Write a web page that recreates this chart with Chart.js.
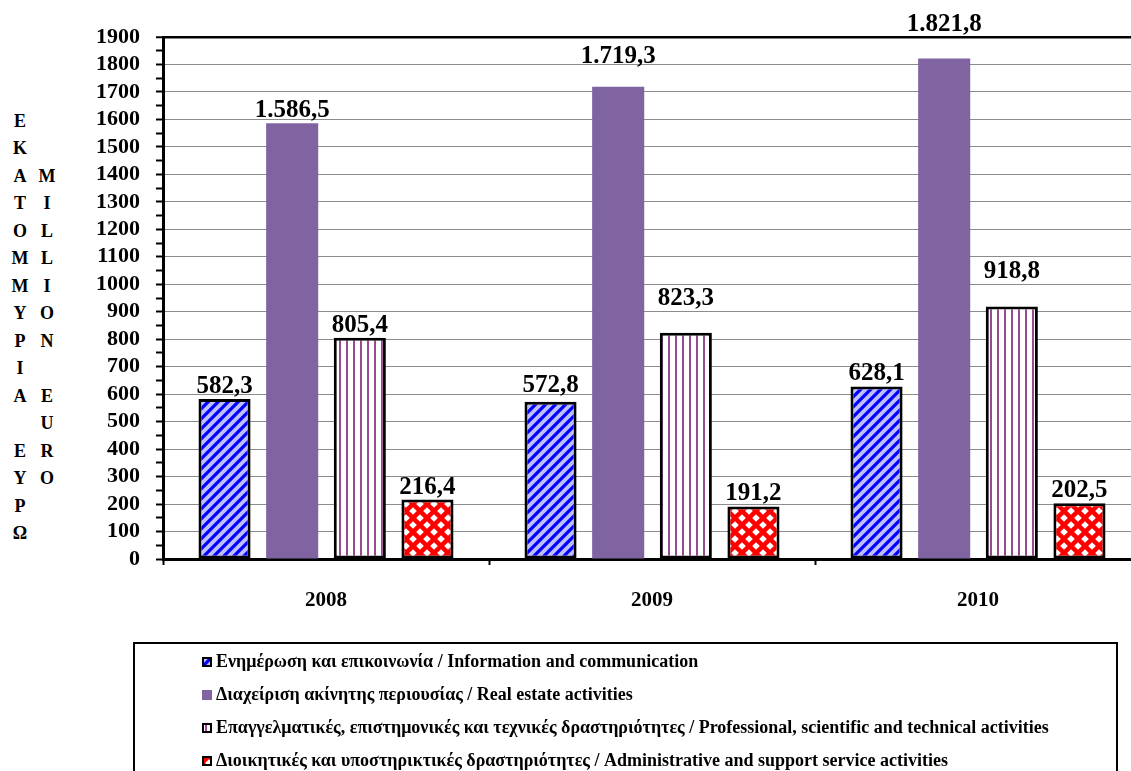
<!DOCTYPE html>
<html>
<head>
<meta charset="utf-8">
<script src="https://cdn.jsdelivr.net/npm/chart.js@4.4.1/dist/chart.umd.min.js"></script>
<style>
  html, body { margin: 0; padding: 0; background: #fff; overflow: hidden; }
  body { width: 1131px; height: 771px; position: relative; font-family: "Liberation Serif", "Times New Roman", serif; }
  #wrap { position: absolute; left: 0; top: 0; width: 1141px; height: 630px; }
  .ytitle { position: absolute; width: 24px; text-align: center; font-weight: bold; font-size: 18px; line-height: 27.47px; color: #000; }
  #legend { position: absolute; left: 133px; top: 642px; width: 985px; height: 150px; border: 2px solid #000; box-sizing: border-box; padding: 1px 0 0 67px; }
  .row { height: 33px; line-height: 33px; font-weight: bold; font-size: 18px; white-space: nowrap; display: flex; align-items: center; }
  .row canvas { width: 10px; height: 10px; margin-right: 4px; }
</style>
</head>
<body>
<div class="ytitle" id="yTitleGr" style="left:8px; top:108px;"></div>
<div class="ytitle" id="yTitleEn" style="left:35px; top:163px;"></div>
<div id="wrap"><canvas id="chart" width="1141" height="630"></canvas></div>
<div id="legend"></div>

<script>
/* ─────────────────────────────────────────
   DATOS
───────────────────────────────────────── */
const years = ["2008", "2009", "2010"];
const infoComm = [582.3, 572.8, 628.1];
const realEstate = [1586.5, 1719.3, 1821.8];
const professional = [805.4, 823.3, 918.8];
const adminSupport = [216.4, 191.2, 202.5];

const seriesLabels = [
  "Ενημέρωση και επικοινωνία / Information and communication",
  "Διαχείριση ακίνητης περιουσίας / Real estate activities",
  "Επαγγελματικές, επιστημονικές και τεχνικές δραστηριότητες / Professional, scientific and technical activities",
  "Διοικητικές και υποστηρικτικές δραστηριότητες / Administrative and support service activities"
];

const yTitleGr = "ΕΚΑΤΟΜΜΥΡΙΑ ΕΥΡΩ";
const yTitleEn = "MILLION EURO";

const SERIF = '"Liberation Serif", "Times New Roman", serif';

/* ─────────────────────────────────────────
   HELPERS
───────────────────────────────────────── */
// 1586.5 -> "1.586,5"
function fmt(v) {
  const [i, d] = v.toFixed(1).split(".");
  return i.replace(/\B(?=(\d{3})+(?!\d))/g, ".") + "," + d;
}

// rellenos con trama, como en Excel
function makePattern(kind) {
  const c = document.createElement("canvas");
  const g = c.getContext("2d");
  if (kind === "diag") {
    c.width = c.height = 10;
    g.fillStyle = "#bdbdff";
    g.fillRect(0, 0, 10, 10);
    g.strokeStyle = "#0000ff";
    g.lineWidth = 3.2;
    g.beginPath();
    g.moveTo(-5, 5); g.lineTo(5, -5);
    g.moveTo(0, 10); g.lineTo(10, 0);
    g.moveTo(5, 15); g.lineTo(15, 5);
    g.stroke();
  } else if (kind === "vert") {
    c.width = c.height = 7;
    g.fillStyle = "#ffffff";
    g.fillRect(0, 0, 7, 7);
    g.fillStyle = "#9a4a94";
    g.fillRect(3, 0, 2, 7);
  } else if (kind === "diamond") {
    c.width = 14; c.height = 14;
    g.fillStyle = "#ff0000";
    g.fillRect(0, 0, 14, 14);
    g.fillStyle = "#ffffff";
    const r = 3.8;
    [[7, 7], [0, 0], [14, 0], [0, 14], [14, 14]].forEach(([x, y]) => {
      g.beginPath();
      g.moveTo(x, y - r); g.lineTo(x + r, y); g.lineTo(x, y + r); g.lineTo(x - r, y);
      g.closePath();
      g.fill();
    });
  }
  return g.createPattern(c, "repeat");
}

/* ─────────────────────────────────────────
   TÍTULO VERTICAL DEL EJE Y
───────────────────────────────────────── */
function letters(s) {
  return s.split("").map(ch => ch === " " ? "&nbsp;" : ch).join("<br>");
}
document.getElementById("yTitleGr").innerHTML = letters(yTitleGr);
document.getElementById("yTitleEn").innerHTML = letters(yTitleEn);

/* ─────────────────────────────────────────
   PLUGIN: valores encima de las barras
───────────────────────────────────────── */
const valueLabels = {
  id: "valueLabels",
  afterDatasetsDraw(chart) {
    const ctx = chart.ctx;
    ctx.save();
    ctx.font = "bold 25px " + SERIF;
    ctx.fillStyle = "#000";
    ctx.textAlign = "center";
    ctx.textBaseline = "alphabetic";
    chart.data.datasets.forEach((ds, i) => {
      chart.getDatasetMeta(i).data.forEach((bar, j) => {
        const lift = ds.labelLift ? ds.labelLift[j] : 0;
        ctx.fillText(fmt(ds.data[j]), bar.x, bar.y - 6 - lift);
      });
    });
    ctx.restore();
  }
};

/* ─────────────────────────────────────────
   GRÁFICO
───────────────────────────────────────── */
const fills = [makePattern("diag"), "#8064a2", makePattern("vert"), makePattern("diamond")];
const borders = [3, 0, 3, 3];
const seriesData = [infoComm, realEstate, professional, adminSupport];

const datasets = seriesData.map((data, i) => ({
  label: seriesLabels[i],
  data,
  backgroundColor: fills[i],
  borderColor: "#000",
  borderWidth: borders[i],
  borderSkipped: false,
  categoryPercentage: 0.83,
  barPercentage: 0.77,
}));
// algunas etiquetas están desplazadas hacia arriba en el original
datasets[0].labelLift = [0, 4, 0];
datasets[1].labelLift = [0, 18, 21];
datasets[2].labelLift = [0, 22, 23];

new Chart(document.getElementById("chart"), {
  type: "bar",
  data: { labels: years, datasets },
  plugins: [valueLabels],
  options: {
    responsive: false,
    animation: false,
    layout: { padding: { top: 37, left: 0, right: 0, bottom: 0 } },
    plugins: {
      legend: { display: false },
      tooltip: { enabled: false }
    },
    scales: {
      x: {
        afterFit: s => { s.height = 71; },
        border: { color: "#000", width: 3 },
        grid: {
          offset: true,
          drawOnChartArea: false,
          tickLength: 6,
          tickColor: "#000",
          tickWidth: 2
        },
        ticks: {
          color: "#000",
          padding: 23,
          font: { family: SERIF, size: 21, weight: "bold" }
        }
      },
      y: {
        min: 0,
        max: 1900,
        afterFit: s => { s.width = 163; },
        border: { color: "#000", width: 3 },
        grid: {
          color: c => c.tick.value === 1900 ? "#000" : (c.tick.value % 100 ? "rgba(0,0,0,0)" : "#8c8c8c"),
          lineWidth: c => c.tick.value === 1900 ? 2.5 : 1,
          tickLength: 7,
          tickColor: "#000",
          tickWidth: 2
        },
        ticks: {
          stepSize: 50,
          autoSkip: false,
          color: "#000",
          padding: 16,
          font: { family: SERIF, size: 22, weight: "bold" },
          callback: v => v % 100 === 0 ? v : ""
        }
      }
    }
  }
});

/* ─────────────────────────────────────────
   LEYENDA
───────────────────────────────────────── */
const legend = document.getElementById("legend");
seriesLabels.forEach((txt, i) => {
  const row = document.createElement("div");
  row.className = "row";
  const sw = document.createElement("canvas");
  sw.width = 10; sw.height = 10;
  const g = sw.getContext("2d");
  g.fillStyle = fills[i];
  g.fillRect(0, 0, 10, 10);
  if (borders[i]) {
    g.strokeStyle = "#000";
    g.lineWidth = 2;
    g.strokeRect(1, 1, 8, 8);
  }
  row.appendChild(sw);
  const span = document.createElement("span");
  span.textContent = txt;
  row.appendChild(span);
  legend.appendChild(row);
});
</script>
</body>
</html>
